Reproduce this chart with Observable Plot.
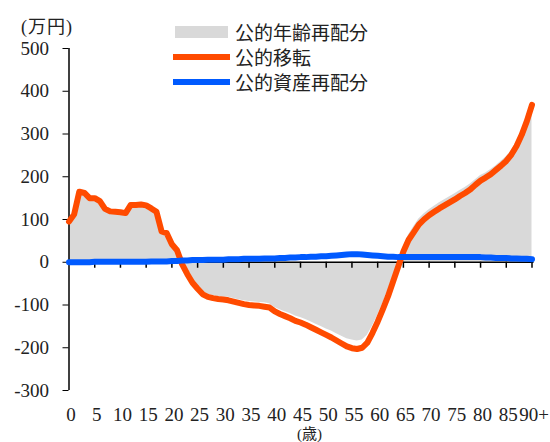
<!DOCTYPE html>
<html>
<head>
<meta charset="utf-8">
<script src="https://cdn.jsdelivr.net/npm/d3@7"></script>
<script src="https://cdn.jsdelivr.net/npm/@observablehq/plot@0.6"></script>
<style>
  html, body { margin: 0; padding: 0; background: #fff; }
  #wrap { position: relative; width: 550px; height: 442px; overflow: hidden; }
  #wrap svg, #wrap svg text { font-family: "Liberation Serif", "DejaVu Serif", serif !important; }
  .lbl { position: absolute; white-space: nowrap; color: #222; line-height: 1; }
  .leg { position: absolute; font-family: "Noto Sans CJK JP", sans-serif; font-size: 19px; color: #222; line-height: 1; }
  .sw { position: absolute; }
</style>
</head>
<body>
<div id="wrap"></div>
<script>
// Ages (x categories)
const ages = [0,1,2,3,4,5,6,7,8,9,10,11,12,13,14,15,16,17,18,19,20,21,22,23,24,25,26,27,28,29,30,
  31,32,33,34,35,36,37,38,39,40,41,42,43,44,45,46,47,48,49,50,51,52,53,54,55,56,57,58,59,60,
  61,62,63,64,65,66,67,68,69,70,71,72,73,74,75,76,77,78,79,80,81,82,83,84,85,86,87,88,89,90];

// 公的年齢再配分 (gray area), 万円
const ageRealloc = [95,112,165,162,150,151,144,126,120,119,118,116,135,135,136,134,128,120,74,70,45,
  31,-1,-24,-43,-57,-70,-75,-78,-80,-81,-82,-85,-88,-90,-92,-93,-94,-95,-97,-106,
  -111,-116,-120,-126,-129,-134,-139,-145,-150,-156,-161,-167,-173,-179,-182,-184,-182,-171,-149,-124,
  -96,-67,-32,2,37,64,83,101,113,123,131,139,146,153,160,168,175,183,193,203,
  209,217,226,236,247,261,281,306,338,375];

// 公的移転 (orange line)
const transfers = [95,112,165,162,150,150,143,125,119,118,117,115,134,134,135,133,126,118,72,68,42,
  28,-5,-28,-48,-62,-75,-81,-84,-86,-87,-89,-92,-95,-98,-100,-101,-102,-104,-106,-115,
  -121,-126,-131,-137,-141,-146,-152,-158,-164,-170,-176,-183,-190,-197,-201,-203,-200,-188,-165,-139,
  -110,-80,-45,-10,25,52,70,88,100,110,118,126,133,140,147,155,162,170,181,191,
  198,206,216,226,237,252,272,298,330,368];

// 公的資産再配分 (blue line)
const assets = [0,0,0,0,0,1,1,1,1,1,1,1,1,1,1,1,2,2,2,2,3,
  3,4,4,5,5,5,6,6,6,6,7,7,7,8,8,8,8,9,9,9,
  10,10,11,11,12,12,13,13,14,14,15,16,17,18,19,19,18,17,16,15,
  14,13,13,12,12,12,12,12,12,12,12,12,12,12,12,12,12,12,12,12,
  11,11,10,10,10,9,9,8,8,7];

const xTicks = [0,5,10,15,20,25,30,35,40,45,50,55,60,65,70,75,80,85,90];
const xTickLabels = ["0","5","10","15","20","25","30","35","40","45","50","55","60","65","70","75","80","85","90+"];
const yTicks = [500,400,300,200,100,0,-100,-200,-300];

const seriesNames = ["公的年齢再配分", "公的移転", "公的資産再配分"];
const colors = ["#d9d9d9", "#ff4b00", "#005aff"];
const yUnit = "(万円)";
const xUnit = "(歳)";

const rows = ages.map((a, i) => ({age: a, gray: ageRealloc[i], orange: transfers[i], blue: assets[i]}));

const chart = Plot.plot({
  width: 550,
  height: 442,
  marginLeft: 68.5,
  marginRight: 18.5,
  marginTop: 48,
  marginBottom: 52,
  style: {fontFamily: "Liberation Serif, serif", fontSize: "19px", color: "#222", background: "#fff", overflow: "visible"},
  x: {domain: [0, 90]},
  y: {domain: [-300, 500]},
  marks: [
    Plot.areaY(rows, {x: "age", y1: 0, y2: "gray", fill: colors[0]}),
    Plot.ruleY([0], {stroke: "#000", strokeWidth: 1.5, insetRight: -2}),
    Plot.ruleX(xTicks.slice(1), {x: d => d, y1: 0, y2: 0, insetBottom: -6, stroke: "#000", strokeWidth: 1.5}),
    Plot.ruleX([0], {y1: -300, y2: 500, stroke: "#000", strokeWidth: 1.5}),
    Plot.axisY({ticks: yTicks, tickSize: 6, tickPadding: 14, tickFormat: d => String(d), label: null, stroke: "#000"}),
    Plot.axisX({ticks: xTicks, tickSize: 0, tickPadding: 17, dx: 2, tickFormat: d => xTickLabels[xTicks.indexOf(d)], label: null}),
    Plot.line(rows, {x: "age", y: "orange", stroke: colors[1], strokeWidth: 6, strokeLinejoin: "round"}),
    Plot.line(rows, {x: "age", y: "blue", stroke: colors[2], strokeWidth: 6, strokeLinejoin: "round"})
  ]
});

const wrap = document.getElementById("wrap");
wrap.appendChild(chart);

// y unit label
const yl = document.createElement("div");
yl.className = "lbl";
yl.style.cssText = "left:21px;top:18px;font-family:'Liberation Serif','Noto Sans CJK JP',serif;font-size:18px;letter-spacing:1px;";
yl.textContent = yUnit;
wrap.appendChild(yl);

// x unit label
const xl = document.createElement("div");
xl.className = "lbl";
xl.style.cssText = "left:297px;top:427px;font-family:'Liberation Serif','Noto Sans CJK JP',serif;font-size:15px;";
xl.textContent = xUnit;
wrap.appendChild(xl);

// legend
const legRows = [
  {y: 32, kind: "rect"},
  {y: 57, kind: "line"},
  {y: 82, kind: "line"}
];
legRows.forEach((r, i) => {
  const sw = document.createElement("div");
  sw.className = "sw";
  if (r.kind === "rect") {
    sw.style.cssText = `left:175px;top:${r.y - 6}px;width:53px;height:12px;background:${colors[i]};`;
  } else {
    sw.style.cssText = `left:173px;top:${r.y - 3}px;width:57px;height:6px;background:${colors[i]};`;
  }
  wrap.appendChild(sw);
  const t = document.createElement("div");
  t.className = "leg";
  t.style.cssText = `left:235px;top:${r.y - 10}px;`;
  t.textContent = seriesNames[i];
  wrap.appendChild(t);
});
</script>
</body>
</html>
